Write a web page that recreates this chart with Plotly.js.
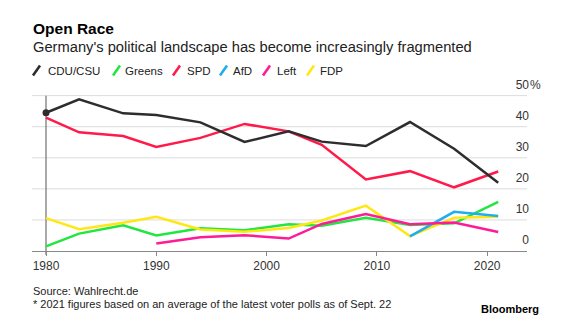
<!DOCTYPE html>
<html>
<head>
<meta charset="utf-8">
<script src="https://cdn.plot.ly/plotly-3.0.1.min.js"></script>
<style>
html,body{margin:0;padding:0;background:#fff;}
#chart{width:574px;height:321px;}
</style>
</head>
<body>
<div id="chart"></div>
<script>
// ---- data ----
const years   = [1980, 1983, 1987, 1990, 1994, 1998, 2002, 2005, 2009, 2013, 2017, 2021];
const cduCsu  = [44.5, 48.8, 44.3, 43.8, 41.4, 35.1, 38.5, 35.2, 33.8, 41.5, 32.9, 22.0];
const greens  = [1.5, 5.6, 8.3, 5.0, 7.3, 6.7, 8.6, 8.1, 10.7, 8.4, 8.9, 15.8];
const spd     = [42.9, 38.2, 37.0, 33.5, 36.4, 40.9, 38.5, 34.2, 23.0, 25.7, 20.5, 25.6];
const afd     = [null, null, null, null, null, null, null, null, null, 4.7, 12.6, 11.3];
const left    = [null, null, null, 2.4, 4.4, 5.1, 4.0, 8.7, 11.9, 8.6, 9.2, 6.1];
const fdp     = [10.6, 7.0, 9.1, 11.0, 6.9, 6.2, 7.4, 9.8, 14.6, 4.8, 10.7, 11.0];
const seriesNames = ['CDU/CSU', 'Greens', 'SPD', 'AfD', 'Left', 'FDP'];
const xTickVals = [1980, 1990, 2000, 2010, 2020];
const yTickVals = [0, 10, 20, 30, 40, 50];
const yTickText = ['0', '10', '20', '30', '40', '50'];

const colors = {
  'CDU/CSU': '#2d2d2d',
  'Greens': '#22e640',
  'SPD': '#ff1a4a',
  'AfD': '#1eaef0',
  'Left': '#ff1a98',
  'FDP': '#ffe714'
};
const values = {'CDU/CSU': cduCsu, 'Greens': greens, 'SPD': spd, 'AfD': afd, 'Left': left, 'FDP': fdp};
const drawOrder = ['Greens', 'FDP', 'AfD', 'Left', 'SPD', 'CDU/CSU'];

const W = 574, H = 321;
const Y_TOP = 56;            // axis headroom so the top tick label fits
const M = {l: 32, r: 47, t: 251 - Y_TOP * 3.1, b: 70};
const PW = W - M.l - M.r, PH = H - M.t - M.b;
const px = x => (x - M.l) / PW;
const py = y => (H - M.b - y) / PH;

const FONT = 'Liberation Sans, Arial, sans-serif';

const traces = drawOrder.map(n => ({
  type: 'scatter', mode: 'lines', name: n,
  x: years, y: values[n],
  connectgaps: false,
  line: {color: colors[n], width: 2.5},
  showlegend: false, hoverinfo: 'skip'
}));
traces.push({
  type: 'scatter', mode: 'markers',
  x: [years[0]], y: [cduCsu[0]],
  marker: {color: colors['CDU/CSU'], size: 7},
  showlegend: false, hoverinfo: 'skip', cliponaxis: false
});

const shapes = [];
const annotations = [];
// gridlines
yTickVals.slice(1).forEach(v => {
  shapes.push({type: 'line', xref: 'paper', yref: 'y', x0: 0, x1: 1, y0: v, y1: v,
    line: {color: '#dcdcdc', width: 1}, layer: 'below'});
});
// vertical line at 1980
shapes.push({type: 'line', xref: 'x', yref: 'y', x0: years[0], x1: years[0],
  y0: 0, y1: yTickVals[yTickVals.length - 1], line: {color: '#7a7a7a', width: 1.3}, layer: 'below'});
shapes.push({type: 'line', xref: 'x', yref: 'paper', x0: years[0], x1: years[0],
  y0: py(255), y1: 0, line: {color: '#7a7a7a', width: 1.3}, layer: 'below'});

// legend
const legendIcon = [33, 113, 173, 220, 263, 307];
const legendText = [46, 123, 185, 231, 275, 318];
seriesNames.forEach((n, i) => {
  shapes.push({type: 'line', xref: 'paper', yref: 'paper',
    x0: px(legendIcon[i]), y0: py(76), x1: px(legendIcon[i] + 7), y1: py(66),
    line: {color: colors[n], width: 2.6}});
  annotations.push({xref: 'paper', yref: 'paper', x: px(legendText[i]), y: py(71),
    xanchor: 'left', yanchor: 'middle', showarrow: false, text: n,
    font: {family: FONT, size: 11.5, color: '#222'}});
});

annotations.push(
  {xref: 'paper', yref: 'paper', x: px(31), y: py(29), xanchor: 'left', yanchor: 'middle', showarrow: false,
   text: '<b>Open Race</b>', font: {family: FONT, size: 15.5, color: '#000'}},
  {xref: 'paper', yref: 'paper', x: px(31), y: py(47), xanchor: 'left', yanchor: 'middle', showarrow: false,
   text: "Germany's political landscape has become increasingly fragmented", font: {family: FONT, size: 14.7, color: '#222'}},
  {xref: 'paper', yref: 'paper', x: px(31), y: py(291), xanchor: 'left', yanchor: 'middle', showarrow: false,
   text: 'Source: Wahlrecht.de', font: {family: FONT, size: 11, color: '#222'}},
  {xref: 'paper', yref: 'paper', x: px(31), y: py(304), xanchor: 'left', yanchor: 'middle', showarrow: false,
   text: '* 2021 figures based on an average of the latest voter polls as of Sept. 22', font: {family: FONT, size: 11, color: '#222'}},
  {xref: 'paper', yref: 'paper', x: px(541), y: py(309), xanchor: 'right', yanchor: 'middle', showarrow: false,
   text: '<b>Bloomberg</b>', font: {family: FONT, size: 11, color: '#000'}},
  {xref: 'paper', yref: 'y', x: 1, y: yTickVals[yTickVals.length - 1], xanchor: 'left', yanchor: 'middle', yshift: 11, xshift: 1, showarrow: false,
   text: '%', font: {family: FONT, size: 12, color: '#333'}}
);

const layout = {
  width: W, height: H,
  margin: M,
  paper_bgcolor: '#fff', plot_bgcolor: '#fff',
  font: {family: FONT, size: 12, color: '#333'},
  showlegend: false,
  xaxis: {
    range: [1978.73, 2023.61],
    tickvals: xTickVals, ticktext: xTickVals.map(String),
    showgrid: false, zeroline: false,
    showline: true, linecolor: '#888', linewidth: 1,
    ticks: 'outside', ticklen: 4, tickcolor: '#888', tickwidth: 1,
    tickfont: {family: FONT, size: 12, color: '#333'},
    fixedrange: true
  },
  yaxis: {
    range: [0, Y_TOP],
    side: 'right',
    tickvals: yTickVals, ticktext: yTickText,
    ticklabelposition: 'inside',
    ticklabelshift: -11,
    ticklabelstandoff: -5,
    ticks: '',
    showgrid: false,
    zeroline: false, showline: false,
    tickfont: {family: FONT, size: 12, color: '#333'},
    fixedrange: true
  },
  shapes: shapes,
  annotations: annotations
};

Plotly.newPlot('chart', traces, layout, {displayModeBar: false, staticPlot: true});
</script>
</body>
</html>
